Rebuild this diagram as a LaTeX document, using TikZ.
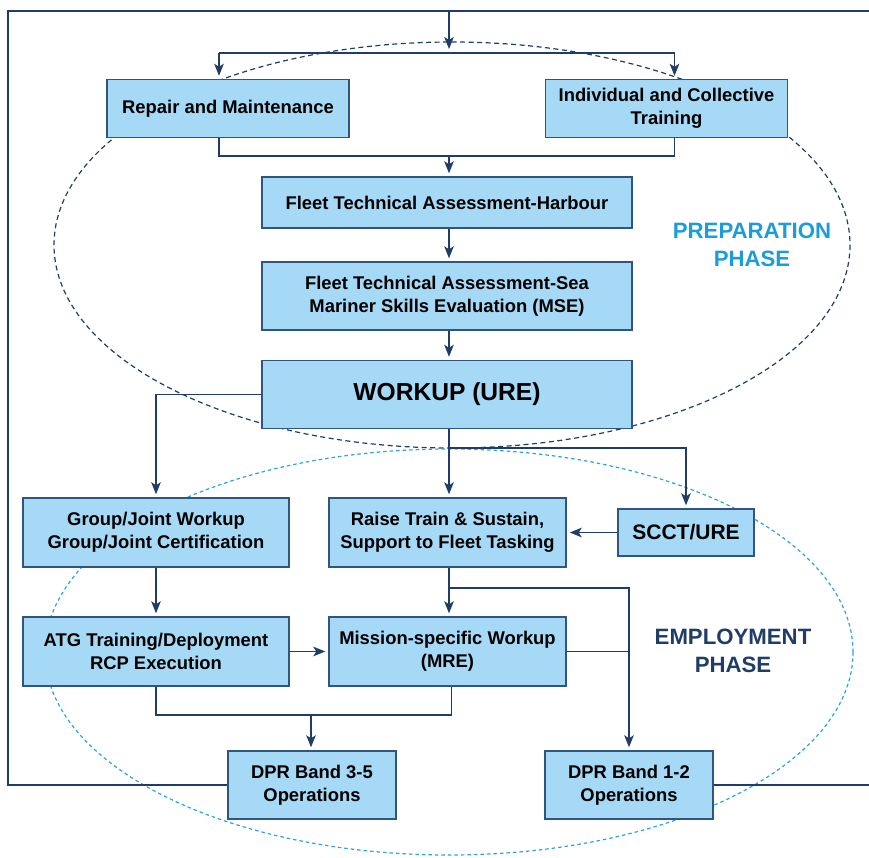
\documentclass[tikz,border=0pt]{standalone}
\usepackage{fontspec}
\setmainfont{Liberation Sans}
\usetikzlibrary{arrows.meta,calc}
\definecolor{navy}{RGB}{31,61,102}
\definecolor{boxfill}{RGB}{165,217,245}
\definecolor{boxborder}{RGB}{50,85,125}
\definecolor{ltblue}{RGB}{41,164,222}
\definecolor{preptext}{RGB}{27,157,217}
\tikzset{
  box/.style={draw=boxborder, fill=boxfill, line width=1.4pt, align=center, inner sep=0pt,
    font=\bfseries\fontsize{18.4}{23}\selectfont, text=black},
  ln/.style={draw=navy, line width=1.6pt},
  arr/.style={ln, -{Stealth[length=12pt,width=9.5pt,inset=3pt]}, shorten >=3pt},
  phase/.style={font=\bfseries\fontsize{22.2}{28}\selectfont, align=center},
}
\begin{document}
\begin{tikzpicture}[x=1pt,y=-1pt]
\useasboundingbox (0,0) rectangle (869,857);
% phase ellipses
\draw[navy, line width=1.2pt, dash pattern=on 5pt off 3.5pt] (452,245) ellipse [x radius=398, y radius=203];
\draw[ltblue, line width=1.2pt, dash pattern=on 3.5pt off 3pt] (449,652) ellipse [x radius=404, y radius=203];

% boxes
\node[box, minimum width=242, minimum height=58] (rm) at (228,108.5) {Repair and Maintenance};
\node[box, minimum width=242, minimum height=58] (ict) at (666.5,108.5) {Individual and Collective\\Training};
\node[box, minimum width=370, minimum height=51] (fth) at (447,202.5) {Fleet Technical Assessment-Harbour};
\node[box, minimum width=370, minimum height=68] (fts) at (447,296) {Fleet Technical Assessment-Sea\\Mariner Skills Evaluation (MSE)};
\node[box, minimum width=370, minimum height=68, font=\bfseries\fontsize{24.6}{28}\selectfont] (wu) at (447,394.5) {WORKUP (URE)};
\node[box, minimum width=266, minimum height=69] (gj) at (156,532.5) {Group/Joint Workup\\Group/Joint Certification};
\node[box, minimum width=237, minimum height=69] (rts) at (447.5,532.5) {Raise Train \& Sustain,\\Support to Fleet Tasking};
\node[box, minimum width=136, minimum height=47, font=\bfseries\fontsize{21}{24}\selectfont] (scct) at (686,532.5) {SCCT/URE};
\node[box, minimum width=266, minimum height=69] (atg) at (156,651.5) {ATG Training/Deployment\\RCP Execution};
\node[box, minimum width=237, minimum height=69] (msw) at (447.5,651.5) {Mission-specific Workup\\(MRE)};
\node[box, minimum width=168, minimum height=68] (d35) at (312,785) {DPR Band 3-5\\Operations};
\node[box, minimum width=168, minimum height=68] (d12) at (629,785) {DPR Band 1-2\\Operations};

% phase labels
\node[phase, text=preptext] (prep) at (752,245) {PREPARATION\\PHASE};
\node[phase, text=navy] (empl) at (733,651) {EMPLOYMENT\\PHASE};

% coordinates
\coordinate (topin) at (449,11);
\coordinate (split) at (449,53);
\coordinate (mrg) at (449,156);
\coordinate (br1) at (449,448);
\coordinate (br2) at (449,588);
\coordinate (mrg2) at (311,715);
\coordinate (fbl) at (8,785);
\coordinate (ftl) at (8,11);
\coordinate (ftr) at (869,11);
\coordinate (fbr) at (869,785);

% frame loop
\draw[ln] (d35.west) -- (fbl) -- (ftl) -- (ftr);
\draw[ln] (d12.east) -- (fbr);
\draw[arr, shorten >=4pt] (topin) -- (split);

% top split
\draw[ln] ([xshift=-9]rm.north |- split) -- ([xshift=8]ict.north |- split);
\draw[arr] ([xshift=-9]rm.north |- split) -- ([xshift=-9]rm.north);
\draw[arr] ([xshift=8]ict.north |- split) -- ([xshift=8]ict.north);

% merge to harbour
\draw[ln] ([xshift=-9]rm.south) |- (mrg) -| ([xshift=8]ict.south);
\draw[arr] (mrg) -- (mrg |- fth.north);
\draw[arr] (fth.south -| mrg) -- (fts.north -| mrg);
\draw[arr] (fts.south -| mrg) -- (wu.north -| mrg);

% workup outputs
\draw[arr] (wu.west) -| (gj.north);
\draw[arr] (wu.south -| mrg) -- (rts.north -| mrg);
\draw[arr] (br1) -| (scct.north);
\draw[arr] (scct.west) -- (scct.west -| rts.east);

% lower
\draw[arr] (gj.south) -- (atg.north);
\draw[arr] (rts.south -| mrg) -- (msw.north -| mrg);
\draw[arr] (br2) -| (d12.north);
\draw[ln] (msw.east) -- (msw.east -| d12.north);
\draw[arr] (atg.east) -- (msw.west);
\draw[ln] (atg.south) |- (mrg2) -| ([xshift=4]msw.south);
\draw[arr] (mrg2) -- (mrg2 |- d35.north);
\end{tikzpicture}
\end{document}
